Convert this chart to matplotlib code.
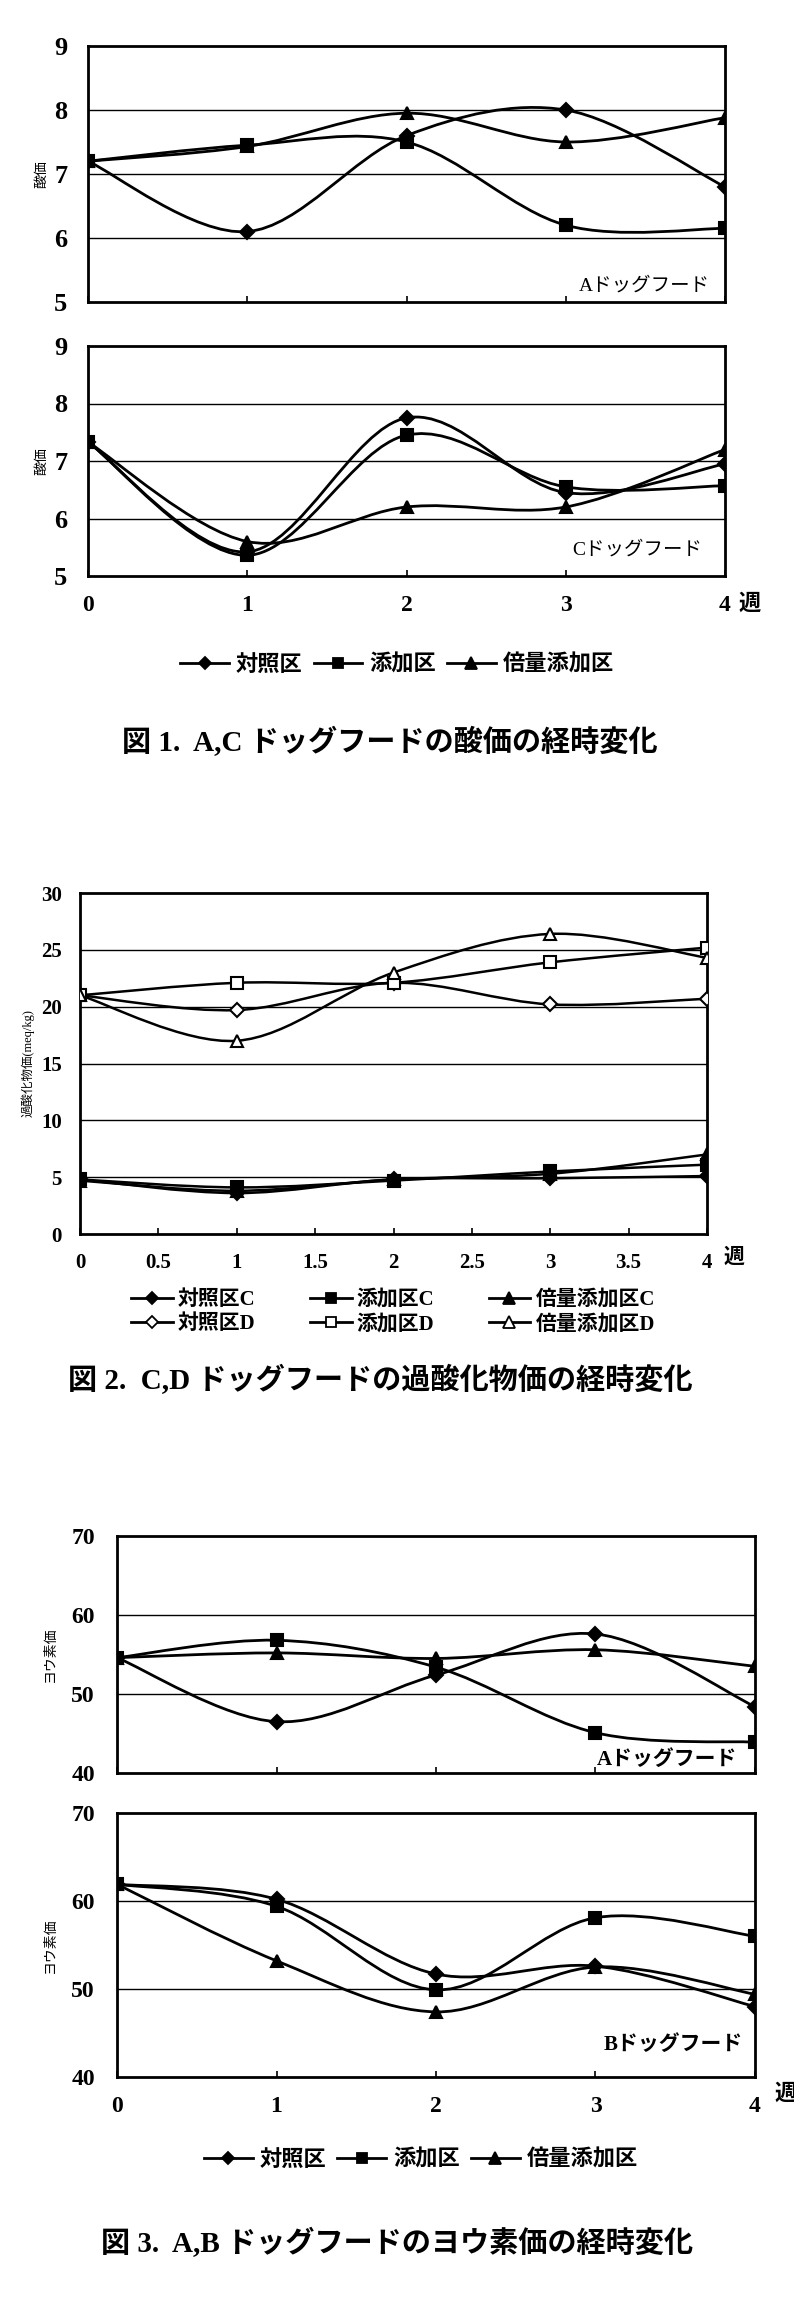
import numpy as np
import matplotlib
matplotlib.use("Agg")
import matplotlib.pyplot as plt
from matplotlib.path import Path
from matplotlib.patches import PathPatch
from matplotlib.lines import Line2D

plt.rcParams['font.family'] = ['Liberation Serif', 'Noto Sans CJK JP']
plt.rcParams['font.weight'] = 'bold'

W, H = 794, 2308

weeks = [0, 1, 2, 3, 4]
groups = ['対照区', '添加区', '倍量添加区']

# fig 1 : acid value (A, C dog food)
acid_A_control = [7.2, 6.1, 7.6, 8.0, 6.8]
acid_A_added = [7.2, 7.45, 7.5, 6.2, 6.15]
acid_A_double = [7.2, 7.43, 7.95, 7.5, 7.88]
acid_C_control = [7.33, 5.42, 7.75, 6.45, 6.95]
acid_C_added = [7.33, 5.36, 7.45, 6.55, 6.57]
acid_C_double = [7.33, 5.6, 6.2, 6.2, 7.2]

# fig 2 : peroxide value (C, D dog food)
perox_C_control = [4.8, 3.6, 4.8, 4.9, 5.1]
perox_C_added = [4.8, 4.1, 4.7, 5.5, 6.1]
perox_C_double = [4.7, 3.8, 4.8, 5.3, 7.0]
perox_D_control = [21.0, 19.7, 22.1, 20.2, 20.7]
perox_D_added = [21.0, 22.1, 22.1, 23.9, 25.2]
perox_D_double = [21.0, 17.0, 23.0, 26.4, 24.3]
perox_labels = ['対照区C', '対照区D', '添加区C', '添加区D', '倍量添加区C', '倍量添加区D']

# fig 3 : iodine value (A, B dog food)
iodine_A_control = [54.6, 46.5, 52.4, 57.6, 48.4]
iodine_A_added = [54.6, 56.8, 53.4, 45.1, 43.9]
iodine_A_double = [54.6, 55.2, 54.5, 55.6, 53.5]
iodine_B_control = [61.9, 60.2, 51.7, 52.6, 48.0]
iodine_B_added = [61.9, 59.4, 49.9, 58.1, 56.0]
iodine_B_double = [61.9, 53.2, 47.4, 52.5, 49.4]

markers = ['D', 's', '^']
msizes = [7, 8, 9]


def rect(l, t, r, b):
    return [l / W, 1 - b / H, (r - l) / W, (b - t) / H]


def smooth_path(xs, ys):
    # excel style smoothed line through the points (bezier segments)
    pts = np.column_stack([xs, ys]).astype(float)
    n = len(pts)
    verts = [pts[0]]
    codes = [Path.MOVETO]
    for i in range(n - 1):
        p0 = pts[max(i - 1, 0)]
        p1 = pts[i]
        p2 = pts[i + 1]
        p3 = pts[min(i + 2, n - 1)]
        verts += [p1 + (p2 - p0) / 6, p2 - (p3 - p1) / 6, p2]
        codes += [Path.CURVE4] * 3
    return Path(verts, codes)


def draw_series(ax, ys, k, filled=True, lw=2.0):
    ax.add_patch(PathPatch(smooth_path(weeks, ys), facecolor='none',
                           edgecolor='black', lw=lw, zorder=3))
    ax.plot(weeks, ys, ls='none', marker=markers[k], ms=msizes[k],
            mfc='black' if filled else 'white', mec='black', mew=1.5, zorder=4)


def setup(ax, ylim, ystep, xticks, show_x, ysize, xsize, ypad, xpad):
    ax.set_xlim(0, 4)
    ax.set_ylim(*ylim)
    yt = np.arange(ylim[0], ylim[1] + 0.01, ystep)
    ax.set_yticks(yt)
    ax.set_yticklabels(['%g' % v for v in yt])
    ax.set_xticks(xticks)
    ax.set_xticklabels(['%g' % v for v in xticks])
    for v in yt[1:-1]:
        ax.axhline(v, color='black', lw=1.0, zorder=1)
    for s in ax.spines.values():
        s.set_linewidth(2.0)
    ax.tick_params(axis='y', length=0, pad=ypad, labelsize=ysize)
    ax.tick_params(axis='x', direction='in', length=4, width=1.2, pad=xpad,
                   labelsize=xsize, labelbottom=show_x)


def legend_handles(filled_list):
    hs = []
    for k, filled in filled_list:
        hs.append(Line2D([], [], color='black', lw=2, marker=markers[k], ms=msizes[k] - 1,
                         mfc='black' if filled else 'white', mec='black', mew=1.3))
    return hs


fig = plt.figure(figsize=(W / 100, H / 100), dpi=100)

# ---------------- fig 1 ----------------
ax1 = fig.add_axes(rect(88, 46, 725, 302))
setup(ax1, (5, 9), 1, weeks, False, 19, 17, 15, 14)
for k, ys in enumerate([acid_A_control, acid_A_added, acid_A_double]):
    draw_series(ax1, ys, k)
ax1.set_ylabel('酸価', fontsize=10, labelpad=4)
ax1.text(0.976, 0.0625, 'Aドッグフード', transform=ax1.transAxes, ha='right',
         va='center', fontsize=14, fontweight='normal')

ax2 = fig.add_axes(rect(88, 346, 725, 576))
setup(ax2, (5, 9), 1, weeks, True, 19, 17, 15, 14)
for k, ys in enumerate([acid_C_control, acid_C_added, acid_C_double]):
    draw_series(ax2, ys, k)
ax2.set_ylabel('酸価', fontsize=10, labelpad=4)
ax2.text(0.965, 0.113, 'Cドッグフード', transform=ax2.transAxes, ha='right',
         va='center', fontsize=14, fontweight='normal')
fig.text(750 / W, 1 - 605 / H, '週', ha='center', va='center', fontsize=16)

fig.legend(legend_handles([(0, True), (1, True), (2, True)]), groups, ncol=3,
           loc='center', bbox_to_anchor=(0.50, 1 - 665 / H), frameon=False,
           fontsize=16, handlelength=2.2, handletextpad=0.3, columnspacing=0.5)
fig.text(0.491, 1 - 742 / H, '図 1.  A,C ドッグフードの酸価の経時変化',
         ha='center', va='center', fontsize=21)

# ---------------- fig 2 ----------------
ax3 = fig.add_axes(rect(80, 893, 707, 1234))
setup(ax3, (0, 30), 5, np.arange(0, 4.01, 0.5), True, 15, 15, 13, 14)
for k, ys in enumerate([perox_C_control, perox_C_added, perox_C_double]):
    draw_series(ax3, ys, k, True, lw=1.8)
for k, ys in enumerate([perox_D_control, perox_D_added, perox_D_double]):
    draw_series(ax3, ys, k, False, lw=1.8)
ax3.set_ylabel('過酸化物価(meq/kg)', fontsize=9, labelpad=5)
fig.text(734 / W, 1 - 1258 / H, '週', ha='center', va='center', fontsize=15)

h2 = legend_handles([(0, True), (0, False), (1, True), (1, False), (2, True), (2, False)])
fig.legend(h2, perox_labels, ncol=3, loc='center', bbox_to_anchor=(0.495, 1 - 1312 / H),
           frameon=False, fontsize=15, handlelength=2.0, handletextpad=0.25,
           columnspacing=2.6, labelspacing=0.2)
fig.text(0.479, 1 - 1380 / H, '図 2.  C,D ドッグフードの過酸化物価の経時変化',
         ha='center', va='center', fontsize=21)

# ---------------- fig 3 ----------------
ax4 = fig.add_axes(rect(117, 1536, 755, 1773))
setup(ax4, (40, 70), 10, weeks, False, 17, 17, 16, 14)
for k, ys in enumerate([iodine_A_control, iodine_A_added, iodine_A_double]):
    draw_series(ax4, ys, k)
ax4.set_ylabel('ヨウ素価', fontsize=10, labelpad=10)
ax4.text(0.972, 0.055, 'Aドッグフード', transform=ax4.transAxes, ha='right',
         va='center', fontsize=15)

ax5 = fig.add_axes(rect(117, 1813, 755, 2077))
setup(ax5, (40, 70), 10, weeks, True, 17, 17, 16, 14)
for k, ys in enumerate([iodine_B_control, iodine_B_added, iodine_B_double]):
    draw_series(ax5, ys, k)
ax5.set_ylabel('ヨウ素価', fontsize=10, labelpad=10)
ax5.text(0.981, 0.121, 'Bドッグフード', transform=ax5.transAxes, ha='right',
         va='center', fontsize=15)
fig.text(786 / W, 1 - 2095 / H, '週', ha='center', va='center', fontsize=16)

fig.legend(legend_handles([(0, True), (1, True), (2, True)]), groups, ncol=3,
           loc='center', bbox_to_anchor=(0.53, 1 - 2160 / H), frameon=False,
           fontsize=16, handlelength=2.2, handletextpad=0.3, columnspacing=0.5)
fig.text(0.5, 1 - 2243 / H, '図 3.  A,B ドッグフードのヨウ素価の経時変化',
         ha='center', va='center', fontsize=21)

fig.savefig('out.png', dpi=100)
